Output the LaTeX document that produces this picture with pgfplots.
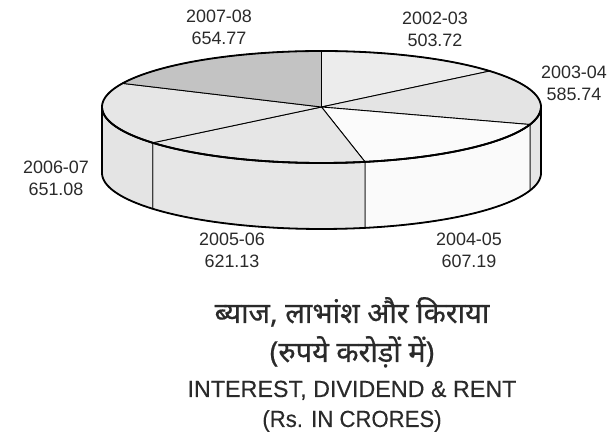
\documentclass[border=0pt]{standalone}
\usepackage{pgfplots}
\pgfplotsset{compat=1.18}
\usepackage{pgfplotstable}
\usepackage{fontspec}
\setmainfont{Liberation Sans}
\newfontfamily\deva[Script=Devanagari,FakeBold=0.5]{Noto Sans}
\newfontfamily\titlefont[FakeBold=0.3]{Liberation Sans}

\definecolor{topA}{HTML}{ECECEC}
\definecolor{topB}{HTML}{E4E4E4}
\definecolor{topC}{HTML}{FBFBFB}
\definecolor{topD}{HTML}{E6E6E6}
\definecolor{topE}{HTML}{E6E6E6}
\definecolor{topF}{HTML}{C3C3C3}
\definecolor{sideB}{HTML}{E6E6E6}
\definecolor{sideC}{HTML}{FAFAFA}
\definecolor{sideD}{HTML}{E6E6E6}
\definecolor{sideE}{HTML}{E4E4E4}
\definecolor{txt}{HTML}{2A2A2A}

\pgfplotstableread{
label value
2002-03 503.72
2003-04 585.74
2004-05 607.19
2005-06 621.13
2006-07 651.08
2007-08 654.77
}\piedata

\pgfplotstablegetelem{0}{value}\of\piedata \let\vA\pgfplotsretval
\pgfplotstablegetelem{1}{value}\of\piedata \let\vB\pgfplotsretval
\pgfplotstablegetelem{2}{value}\of\piedata \let\vC\pgfplotsretval
\pgfplotstablegetelem{3}{value}\of\piedata \let\vD\pgfplotsretval
\pgfplotstablegetelem{4}{value}\of\piedata \let\vE\pgfplotsretval
\pgfplotstablegetelem{5}{value}\of\piedata \let\vF\pgfplotsretval
\pgfmathsetmacro\total{\vA+\vB+\vC+\vD+\vE+\vF}
% slice boundaries, clockwise from the top
\pgfmathsetmacro\aA{90}
\pgfmathsetmacro\aB{\aA-360*(\vA/\total)}
\pgfmathsetmacro\aC{\aB-360*(\vB/\total)}
\pgfmathsetmacro\aD{\aC-360*(\vC/\total)}
\pgfmathsetmacro\aE{\aD-360*(\vD/\total)}
\pgfmathsetmacro\aF{\aE-360*(\vE/\total)}
\pgfmathsetmacro\aG{\aF-360*(\vF/\total)}

% geometry (bp)
\def\cx{321.5}
\def\cy{327}
\def\ra{219.5}
\def\rb{56}
\def\dep{66}

\begin{document}
\begin{tikzpicture}
\begin{axis}[x=1bp, y=1bp, xmin=0, xmax=614, ymin=0, ymax=434,
  hide axis, clip=false, samples=90, variable=\t]
% --- front sides ---
\addplot[fill=sideB, draw=black, line width=0.7bp, domain=\aC:0]
  ({\cx+\ra*cos(\t)},{\cy+\rb*sin(\t)}) -- ++(0,-\dep bp)
  arc[start angle=0, end angle=\aC, x radius=\ra bp, y radius=\rb bp] -- cycle;
\addplot[fill=sideC, draw=black, line width=0.7bp, domain=\aD:\aC]
  ({\cx+\ra*cos(\t)},{\cy+\rb*sin(\t)}) -- ++(0,-\dep bp)
  arc[start angle=\aC, end angle=\aD, x radius=\ra bp, y radius=\rb bp] -- cycle;
\addplot[fill=sideD, draw=black, line width=0.7bp, domain=\aE:\aD]
  ({\cx+\ra*cos(\t)},{\cy+\rb*sin(\t)}) -- ++(0,-\dep bp)
  arc[start angle=\aD, end angle=\aE, x radius=\ra bp, y radius=\rb bp] -- cycle;
\addplot[fill=sideE, draw=black, line width=0.7bp, domain=-180:\aE]
  ({\cx+\ra*cos(\t)},{\cy+\rb*sin(\t)}) -- ++(0,-\dep bp)
  arc[start angle=\aE, end angle=-180, x radius=\ra bp, y radius=\rb bp] -- cycle;
% --- top slices ---
\addplot[fill=topA, draw=black, line width=0.9bp, domain=\aB:\aA]
  ({\cx+\ra*cos(\t)},{\cy+\rb*sin(\t)}) -- (axis cs:\cx,\cy) -- cycle;
\addplot[fill=topB, draw=black, line width=0.9bp, domain=\aC:\aB]
  ({\cx+\ra*cos(\t)},{\cy+\rb*sin(\t)}) -- (axis cs:\cx,\cy) -- cycle;
\addplot[fill=topC, draw=black, line width=0.9bp, domain=\aD:\aC]
  ({\cx+\ra*cos(\t)},{\cy+\rb*sin(\t)}) -- (axis cs:\cx,\cy) -- cycle;
\addplot[fill=topD, draw=black, line width=0.9bp, domain=\aE:\aD]
  ({\cx+\ra*cos(\t)},{\cy+\rb*sin(\t)}) -- (axis cs:\cx,\cy) -- cycle;
\addplot[fill=topE, draw=black, line width=0.9bp, domain=\aF:\aE]
  ({\cx+\ra*cos(\t)},{\cy+\rb*sin(\t)}) -- (axis cs:\cx,\cy) -- cycle;
\addplot[fill=topF, draw=black, line width=0.9bp, domain=\aG:\aF]
  ({\cx+\ra*cos(\t)},{\cy+\rb*sin(\t)}) -- (axis cs:\cx,\cy) -- cycle;
% --- outlines ---
\addplot[draw=black, line width=1.8bp, domain=0:360, samples=180]
  ({\cx+\ra*cos(\t)},{\cy+\rb*sin(\t)});
\addplot[draw=black, line width=1.8bp, domain=-180:0, samples=120]
  ({\cx+\ra*cos(\t)},{\cy-\dep+\rb*sin(\t)}) -- ++(0,\dep bp)
  arc[start angle=0, end angle=-180, x radius=\ra bp, y radius=\rb bp] -- cycle;
% --- labels ---
\begin{scope}[every node/.style={align=center, text=txt, font=\fontsize{18}{22}\selectfont}]
\node at (axis cs:219,406.5) {2007-08\\654.77};
\node at (axis cs:435,405) {2002-03\\503.72};
\node at (axis cs:574,350.5) {2003-04\\585.74};
\node at (axis cs:56,255.5) {2006-07\\651.08};
\node at (axis cs:232,184) {2005-06\\621.13};
\node at (axis cs:469,184) {2004-05\\607.19};
\end{scope}
% --- title ---
\begin{scope}[every node/.style={anchor=base, inner sep=0pt, text=txt}]
\node[font=\deva\fontsize{29}{32}\selectfont] at (axis cs:352,111) {ब्याज, लाभांश और किराया};
\node[font=\deva\fontsize{29}{32}\selectfont] at (axis cs:352,72) {(रुपये करोड़ों में)};
\node[font=\titlefont\fontsize{23.4}{26}\selectfont] at (axis cs:352,37) {INTEREST, DIVIDEND \& RENT};
\node[font=\titlefont\fontsize{23.4}{26}\selectfont] at (axis cs:352,7) {\scalebox{0.95}[1]{(Rs. IN CRORES)}};
\end{scope}
\end{axis}
\pgfresetboundingbox
\path[use as bounding box] (current axis.south west) rectangle (current axis.north east);
\end{tikzpicture}
\end{document}
